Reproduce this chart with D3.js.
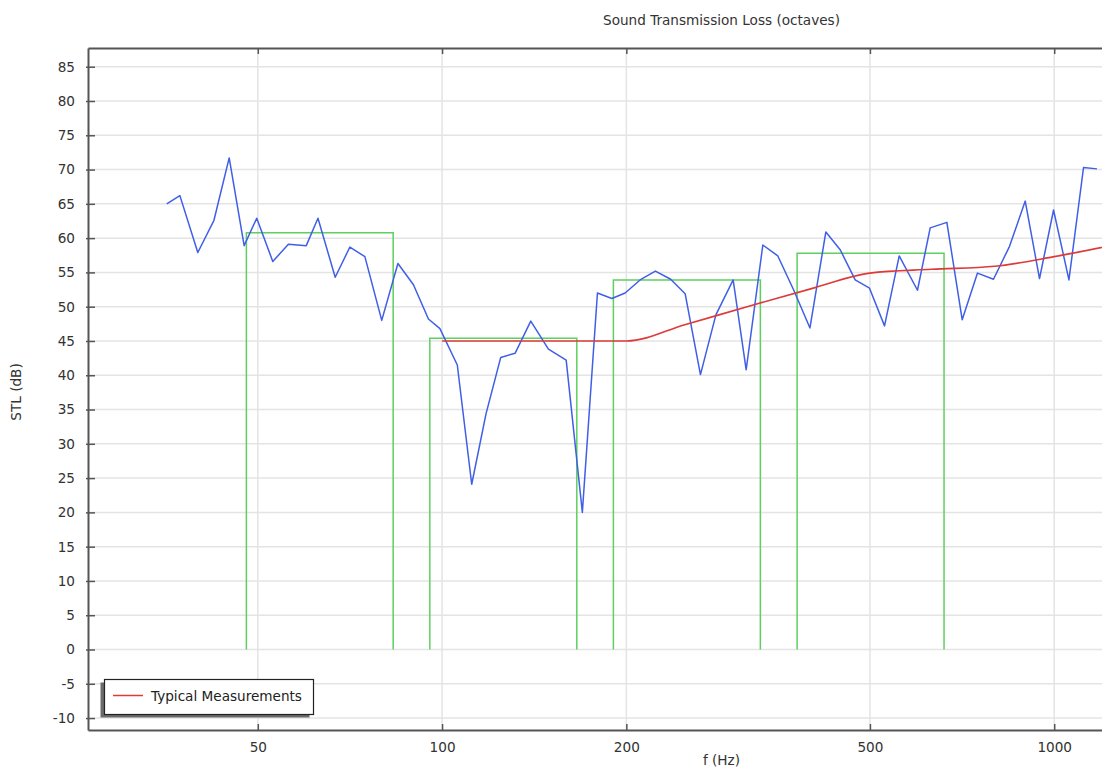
<!DOCTYPE html>
<html>
<head>
<meta charset="utf-8">
<script src="https://cdn.jsdelivr.net/npm/d3@7"></script>
<style>
  html, body { margin: 0; padding: 0; background: #fff; overflow: hidden; }
  svg { display: block; font-family: "DejaVu Sans", sans-serif; }
</style>
</head>
<body>
<svg id="chart" width="1102" height="769"></svg>
<script>
// ---- data ----
const measFreqs = [35.5, 37.3, 39.9, 42.4, 44.9, 47.5, 49.8, 52.9, 56.1, 60.0,
  62.7, 66.9, 70.7, 74.8, 79.7, 84.7, 89.8, 95.0, 99.2, 105.9,
  111.8, 118.0, 124.7, 131.6, 139.6, 149.2, 159.5, 169.5, 179.4, 189.4,
  199.1, 210.6, 223.1, 236.3, 249.5, 264.3, 280.1, 298.9, 313.9, 334.2,
  353.6, 375.0, 399.0, 423.6, 447.1, 473.0, 499.2, 528.2, 558.2, 597.9,
  627.2, 667.8, 707.4, 749.3, 795.7, 845.3, 896.7, 946.2, 997.5, 1057,
  1116.6, 1174.5];
const measSTL = [65.0, 66.2, 57.9, 62.6, 71.7, 58.9, 62.9, 56.6, 59.1, 58.9,
  62.9, 54.3, 58.7, 57.3, 48.0, 56.3, 53.2, 48.2, 46.8, 41.5,
  24.1, 34.4, 42.6, 43.2, 47.9, 43.8, 42.2, 20.0, 52.0, 51.2,
  52.0, 53.9, 55.2, 54.0, 51.9, 40.1, 48.8, 53.9, 40.8, 59.0,
  57.4, 52.5, 46.9, 60.9, 58.3, 53.9, 52.7, 47.2, 57.4, 52.4,
  61.5, 62.3, 48.1, 54.9, 54.0, 58.8, 65.4, 54.1, 64.1, 53.9,
  70.3, 70.1];

const typicalFreqs = [100, 125, 160, 200, 250, 315, 400, 500, 630, 800, 1000, 1250];
const typicalSTL   = [45.0, 45.0, 45.0, 45.0, 47.4, 50.0, 52.6, 54.9, 55.45, 55.9, 57.3, 59.0];

const bandLow  = [47.9, 95.5, 190.5, 380.2];
const bandHigh = [83.2, 166.0, 331.1, 660.7];
const bandSTL  = [60.8, 45.4, 53.9, 57.8];

const xTicks = [50, 100, 200, 500, 1000];
const yTicks = [-10, -5, 0, 5, 10, 15, 20, 25, 30, 35, 40, 45, 50, 55, 60, 65, 70, 75, 80, 85];

const titleText = "Sound Transmission Loss (octaves)";
const xLabel = "f (Hz)";
const yLabel = "STL (dB)";
const legendLabel = "Typical Measurements";

// ---- layout ----
const svg = d3.select("#chart");
const m = { left: 88, top: 48, right: 1355, bottom: 730 };

const x = d3.scaleLog().domain([26.4, 3100]).range([m.left, m.right]);
const y = d3.scaleLinear().domain([-11.74, 87.73]).range([m.bottom, m.top]);

const axisColor = "#555";
const textColor = "#333";
const gridColor = "#e4e4e4";
const fs = 13.6;

svg.append("defs").append("clipPath").attr("id", "plotclip")
  .append("rect").attr("x", m.left).attr("y", m.top)
  .attr("width", m.right - m.left).attr("height", m.bottom - m.top);

// grid
const grid = svg.append("g");
grid.selectAll("line.h").data(yTicks).join("line")
  .attr("x1", m.left).attr("x2", m.right)
  .attr("y1", d => y(d)).attr("y2", d => y(d))
  .attr("stroke", gridColor).attr("stroke-width", 1.5);
grid.selectAll("line.v").data(xTicks).join("line")
  .attr("x1", d => x(d)).attr("x2", d => x(d))
  .attr("y1", m.top).attr("y2", m.bottom)
  .attr("stroke", gridColor).attr("stroke-width", 1.5);

const plot = svg.append("g").attr("clip-path", "url(#plotclip)");

// octave bands (green)
const bands = bandLow.map((lo, i) => ({ lo, hi: bandHigh[i], v: bandSTL[i] }));
plot.selectAll("path.band").data(bands).join("path")
  .attr("fill", "none").attr("stroke", "#5fcf5f").attr("stroke-width", 1.5)
  .attr("d", d => d3.line()([[x(d.lo), y(0)], [x(d.lo), y(d.v)], [x(d.hi), y(d.v)], [x(d.hi), y(0)]]));

// measured (blue)
const meas = measFreqs.map((f, i) => [f, measSTL[i]]);
plot.append("path").datum(meas)
  .attr("fill", "none").attr("stroke", "#3f5fe6").attr("stroke-width", 1.5)
  .attr("stroke-linejoin", "round")
  .attr("d", d3.line().x(d => x(d[0])).y(d => y(d[1])));

// typical (red)
const typ = typicalFreqs.map((f, i) => [f, typicalSTL[i]]);
plot.append("path").datum(typ)
  .attr("fill", "none").attr("stroke", "#dd3a3a").attr("stroke-width", 1.6)
  .attr("d", d3.line().curve(d3.curveMonotoneX).x(d => x(d[0])).y(d => y(d[1])));

// axes
const fmt = d => String(d);
const xAxisB = d3.axisBottom(x).tickValues(xTicks).tickFormat(fmt).tickSizeInner(-6).tickSizeOuter(0).tickPadding(12);
const gx = svg.append("g").attr("transform", `translate(0,${m.bottom})`).call(xAxisB);
const xAxisT = d3.axisTop(x).tickValues(xTicks).tickFormat("").tickSizeInner(-6).tickSizeOuter(0);
const gxt = svg.append("g").attr("transform", `translate(0,${m.top})`).call(xAxisT);
const yAxisL = d3.axisLeft(y).tickValues(yTicks).tickFormat(fmt).tickSizeInner(-7).tickSizeOuter(0).tickPadding(13);
const gy = svg.append("g").attr("transform", `translate(${m.left},0)`).call(yAxisL);

[gx, gxt, gy].forEach(g => {
  g.select(".domain").attr("stroke", axisColor).attr("stroke-width", 2);
  g.selectAll(".tick line").attr("stroke", axisColor).attr("stroke-width", 1.5);
  g.selectAll(".tick text").attr("fill", textColor).attr("font-size", fs)
    .attr("font-family", "DejaVu Sans, sans-serif");
});
gy.selectAll(".tick line").attr("x1", -2);

// titles
svg.append("text").attr("x", (m.left + m.right) / 2).attr("y", 25)
  .attr("text-anchor", "middle").attr("font-size", fs).attr("fill", textColor)
  .text(titleText);
svg.append("text").attr("x", (m.left + m.right) / 2).attr("y", 765)
  .attr("text-anchor", "middle").attr("font-size", fs).attr("fill", textColor)
  .text(xLabel);
svg.append("text").attr("transform", `translate(21,392) rotate(-90)`)
  .attr("text-anchor", "middle").attr("font-size", fs).attr("fill", textColor)
  .text(yLabel);

// legend
const lg = svg.append("g");
lg.append("rect").attr("x", 100.5).attr("y", 682.5).attr("width", 209).attr("height", 35)
  .attr("fill", "#6a6a6a");
lg.append("rect").attr("x", 104.5).attr("y", 679.5).attr("width", 209).attr("height", 35)
  .attr("fill", "#fff").attr("stroke", "#222").attr("stroke-width", 1.2);
lg.append("line").attr("x1", 113).attr("x2", 143).attr("y1", 695.5).attr("y2", 695.5)
  .attr("stroke", "#dd3a3a").attr("stroke-width", 1.5);
lg.append("text").attr("x", 151).attr("y", 700.5).attr("font-size", fs).attr("fill", "#222")
  .text(legendLabel);
</script>
</body>
</html>
